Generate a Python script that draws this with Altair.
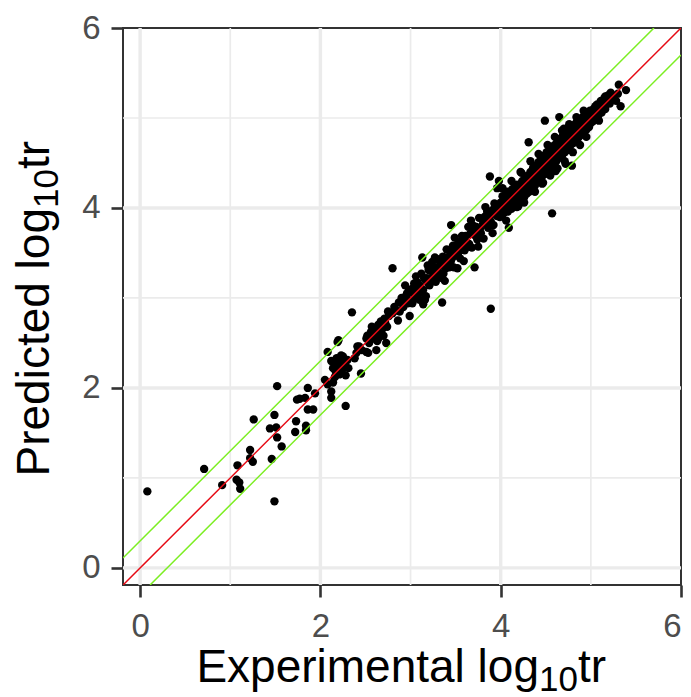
import altair as alt
import pandas as pd

# ---- data ----
exp_low = [0.08, 0.71, 0.91, 1.07, 1.10, 1.11, 1.08, 1.22, 1.22, 1.25, 1.26, 1.46, 1.49, 1.44, 1.51,
           1.52, 1.57, 1.49, 1.52, 1.73, 1.72, 1.84, 1.84, 1.74, 1.86, 1.77, 1.83, 1.94, 1.86, 1.92]
pred_low = [0.85, 1.10, 0.92, 0.98, 0.95, 0.88, 1.14, 1.31, 1.22, 1.18, 1.65, 1.21, 1.70, 1.55, 1.56,
            1.45, 1.35, 0.74, 2.02, 1.63, 1.51, 1.58, 1.53, 1.87, 2.00, 1.88, 1.89, 1.94, 1.76, 1.76]

exp_mid = [2.05, 2.08, 2.08, 2.12, 2.12, 2.28, 2.20, 2.19, 2.12, 2.14, 2.16, 2.17, 2.18, 2.20, 2.21,
           2.22, 2.24, 2.25, 2.27, 2.28, 2.30, 2.31, 2.16, 2.23, 2.14, 2.35, 2.41, 2.51, 2.53, 2.45,
           2.43, 2.40, 2.46, 2.38, 2.52, 2.54, 2.56, 2.58, 2.60, 2.61, 2.63, 2.64, 2.66, 2.67, 2.69,
           2.70, 2.72, 2.74, 2.57, 2.65, 2.71, 2.76, 2.73, 2.62, 2.51, 2.75, 2.80, 2.86, 2.94, 2.96,
           2.97, 2.92, 2.80, 2.82, 2.84, 2.87, 2.88, 2.90, 2.93, 2.95, 2.98, 2.99, 2.99]
pred_mid = [2.09, 2.04, 2.40, 1.96, 1.89, 1.80, 2.53, 2.51, 2.30, 2.22, 2.27, 2.18, 2.33, 2.24, 2.15,
            2.29, 2.20, 2.35, 2.26, 2.14, 2.31, 2.22, 2.12, 2.36, 2.06, 2.84, 2.46, 2.55, 2.39, 2.16,
            2.46, 2.39, 2.42, 2.33, 2.58, 2.50, 2.62, 2.55, 2.66, 2.58, 2.52, 2.70, 2.62, 2.74, 2.66,
            2.58, 2.72, 2.68, 2.68, 2.56, 2.77, 2.80, 2.50, 2.42, 2.40, 2.85, 2.83, 2.75, 3.14, 3.05,
            2.94, 2.90, 3.33, 2.90, 2.86, 2.95, 2.85, 3.00, 2.96, 3.02, 3.08, 2.97, 2.80]

exp_3 = [3.01, 3.02, 3.04, 3.05, 3.07, 3.08, 3.10, 3.11, 3.12, 3.14, 3.15, 3.17, 3.18, 3.20, 3.21,
         3.22, 3.24, 3.25, 3.26, 3.28, 3.29, 3.30, 3.32, 3.33, 3.35, 3.36, 3.37, 3.39, 3.40, 3.41,
         3.43, 3.44, 3.46, 3.47, 3.48, 3.50, 3.51, 3.53, 3.54, 3.55, 3.57, 3.58, 3.60, 3.61, 3.62,
         3.64, 3.65, 3.66, 3.68, 3.69, 3.70, 3.72, 3.73, 3.74, 3.76, 3.77, 3.78, 3.80, 3.81, 3.82,
         3.84, 3.85, 3.86, 3.88, 3.89, 3.90, 3.92, 3.93, 3.94, 3.96, 3.97, 3.99,
         3.015, 3.045, 3.085, 3.125, 3.165, 3.205, 3.245, 3.285, 3.325, 3.365, 3.405, 3.445, 3.485,
         3.525, 3.565, 3.605, 3.645, 3.685, 3.725, 3.765, 3.805, 3.845, 3.885, 3.925, 3.965,
         3.13, 3.35, 3.45, 3.71, 3.89, 3.98, 3.93, 3.95, 3.87, 3.82, 3.14, 3.88, 3.96,
         3.06, 3.16, 3.27, 3.38, 3.49, 3.59, 3.67, 3.75, 3.83, 3.91, 3.19, 3.52]
pred_3 = [3.06, 2.94, 3.16, 3.05, 3.04, 3.17, 2.98, 3.13, 3.27, 3.09, 3.22, 3.02, 3.22, 3.31, 3.14,
          3.22, 3.40, 3.23, 3.34, 3.18, 3.32, 3.43, 3.28, 3.39, 3.22, 3.46, 3.38, 3.33, 3.54, 3.45,
          3.34, 3.51, 3.44, 3.58, 3.34, 3.55, 3.47, 3.62, 3.54, 3.44, 3.69, 3.61, 3.53, 3.69, 3.61,
          3.79, 3.60, 3.71, 3.56, 3.71, 3.80, 3.69, 3.79, 3.65, 3.89, 3.77, 3.72, 3.88, 3.66, 3.86,
          3.82, 3.96, 3.78, 3.91, 3.85, 3.97, 3.81, 3.94, 4.03, 3.91, 4.01, 3.90,
          3.10, 2.99, 3.12, 3.06, 3.20, 3.15, 3.29, 3.25, 3.36, 3.27, 3.42, 3.40, 3.53,
          3.49, 3.60, 3.64, 3.57, 3.75, 3.78, 3.70, 3.83, 3.92, 3.84, 3.99, 3.98,
          3.45, 2.95, 3.81, 3.34, 2.88, 4.30, 4.05, 3.93, 3.95, 3.90, 2.93, 4.35, 4.22,
          3.24, 2.98, 3.45, 3.19, 3.67, 3.41, 3.86, 3.57, 4.01, 3.72, 3.36, 3.33]

exp_4 = [4.00, 4.01, 4.02, 4.03, 4.04, 4.05, 4.06, 4.07, 4.08, 4.09, 4.10, 4.11, 4.12, 4.13, 4.14,
         4.15, 4.16, 4.17, 4.18, 4.19, 4.20, 4.21, 4.22, 4.23, 4.24, 4.25, 4.26, 4.27, 4.28, 4.29,
         4.30, 4.31, 4.32, 4.33, 4.34, 4.35, 4.36, 4.37, 4.38, 4.39, 4.40, 4.41, 4.42, 4.43, 4.44,
         4.45, 4.46, 4.47, 4.48, 4.49, 4.50, 4.51, 4.52, 4.53, 4.54, 4.55, 4.56, 4.57, 4.58, 4.59,
         4.60, 4.61, 4.62, 4.63, 4.64, 4.65, 4.66, 4.67, 4.68, 4.69, 4.70, 4.71, 4.72, 4.73, 4.74,
         4.75, 4.76, 4.77, 4.78, 4.79, 4.80, 4.81, 4.82, 4.83, 4.84, 4.85, 4.86, 4.87, 4.88, 4.89,
         4.90, 4.91, 4.92, 4.93, 4.94, 4.95, 4.96, 4.97, 4.98, 4.99,
         4.015, 4.035, 4.055, 4.075, 4.095, 4.115, 4.135, 4.155, 4.175, 4.195, 4.215, 4.235, 4.255,
         4.275, 4.295, 4.315, 4.335, 4.355, 4.375, 4.395, 4.415, 4.435, 4.455, 4.475, 4.495, 4.515,
         4.535, 4.555, 4.575, 4.595, 4.615, 4.635, 4.655, 4.675, 4.695, 4.715, 4.735, 4.755, 4.775,
         4.795, 4.815, 4.835, 4.855, 4.875, 4.895, 4.915, 4.935, 4.955, 4.975, 4.995,
         4.31, 4.49, 4.65, 4.57, 4.09, 4.61, 4.72, 4.79, 4.04,
         4.02, 4.06, 4.12, 4.18, 4.22, 4.26, 4.33, 4.38, 4.42, 4.46, 4.52, 4.55, 4.60, 4.63,
         4.68, 4.71, 4.76, 4.80, 4.84, 4.88, 4.92, 4.95, 4.23, 4.47, 4.70]
pred_4 = [4.06, 3.95, 4.13, 4.02, 3.97, 4.10, 4.00, 4.18, 3.96, 4.05, 4.14, 4.03, 3.99, 4.21, 4.09,
          4.02, 4.16, 4.07, 4.26, 4.12, 4.05, 4.24, 4.15, 4.09, 4.30, 4.19, 4.12, 4.33, 4.22, 4.16,
          4.36, 4.27, 4.20, 4.40, 4.29, 4.22, 4.45, 4.33, 4.25, 4.47, 4.36, 4.30, 4.51, 4.39, 4.31,
          4.55, 4.42, 4.37, 4.58, 4.45, 4.38, 4.62, 4.50, 4.41, 4.64, 4.52, 4.45, 4.68, 4.55, 4.49,
          4.70, 4.60, 4.53, 4.74, 4.62, 4.56, 4.77, 4.66, 4.58, 4.80, 4.70, 4.62, 4.84, 4.73, 4.66,
          4.86, 4.76, 4.69, 4.89, 4.79, 4.72, 4.92, 4.83, 4.75, 4.95, 4.86, 4.78, 4.97, 4.89, 4.82,
          5.00, 4.92, 4.84, 5.04, 4.95, 4.87, 5.06, 4.99, 4.90, 5.08,
          3.92, 4.08, 4.15, 4.03, 3.99, 4.19, 4.06, 4.23, 4.11, 4.02, 4.18, 4.28, 4.13,
          4.20, 4.31, 4.18, 4.25, 4.42, 4.29, 4.35, 4.40, 4.47, 4.34, 4.50, 4.56, 4.44,
          4.57, 4.47, 4.60, 4.65, 4.52, 4.66, 4.70, 4.61, 4.73, 4.78, 4.64, 4.80, 4.74,
          4.86, 4.76, 4.81, 4.93, 4.80, 4.90, 4.97, 4.88, 4.99, 5.03, 4.94,
          4.73, 4.97, 5.01, 3.94, 3.78, 4.41, 4.49, 4.47, 3.95,
          4.22, 3.86, 4.30, 4.01, 4.40, 4.06, 4.52, 4.18, 4.60, 4.27, 4.70, 4.36, 4.79, 4.44,
          4.86, 4.52, 4.93, 4.62, 5.01, 4.70, 5.08, 4.79, 4.39, 4.28, 4.88]

exp_5 = [5.01, 5.02, 5.03, 5.04, 5.06, 5.07, 5.08, 5.10, 5.11, 5.12, 5.14, 5.15, 5.16, 5.18, 5.19,
         5.21, 5.22, 5.24, 5.26, 5.28, 5.30, 5.31, 5.33, 5.39, 5.05, 5.09, 5.16, 5.22]
pred_5 = [5.05, 4.96, 5.10, 5.01, 5.07, 5.15, 5.02, 5.11, 5.19, 5.06, 5.17, 5.22, 5.10, 5.20, 5.25,
          5.16, 5.27, 5.22, 5.24, 5.19, 5.27, 5.37, 5.13, 5.31, 5.13, 4.97, 5.24, 5.28]

experimental = exp_low + exp_mid + exp_3 + exp_4 + exp_5
predicted = pred_low + pred_mid + pred_3 + pred_4 + pred_5

AXIS_LOW = -0.19
AXIS_HIGH = 6.0
TICKS = [0, 2, 4, 6]
MAJOR_GRID = [0, 2, 4]
MINOR_GRID = [1, 3, 5]
BAND = 0.3
X_TITLE = ["Experimental log", "10", "tr"]
Y_TITLE = ["Predicted log", "10", "tr"]

FONT = "Liberation Sans"
W, H = 558, 557

pts = pd.DataFrame({"exp": experimental, "pred": predicted})

xs = alt.Scale(domain=[AXIS_LOW, AXIS_HIGH], nice=False, zero=False)
ys = alt.Scale(domain=[AXIS_LOW, AXIS_HIGH], nice=False, zero=False)

xaxis = alt.Axis(values=TICKS, grid=False, domain=False, title=None, tickColor="#333333",
                 tickWidth=2.6, tickSize=12, labelFont=FONT, labelFontSize=33,
                 labelColor="#4D4D4D", labelPadding=13, format="d")
yaxis = alt.Axis(values=TICKS, grid=False, domain=False, title=None, tickColor="#333333",
                 tickWidth=2.6, tickSize=12, labelFont=FONT, labelFontSize=33,
                 labelColor="#4D4D4D", labelPadding=11, format="d")

grid_major_x = alt.Chart(pd.DataFrame({"v": MAJOR_GRID})).mark_rule(
    color="#EBEBEB", strokeWidth=3.4).encode(x=alt.X("v:Q", scale=xs, axis=xaxis))
grid_minor_x = alt.Chart(pd.DataFrame({"v": MINOR_GRID})).mark_rule(
    color="#EBEBEB", strokeWidth=1.7).encode(x=alt.X("v:Q", scale=xs, axis=xaxis))
grid_major_y = alt.Chart(pd.DataFrame({"v": MAJOR_GRID})).mark_rule(
    color="#EBEBEB", strokeWidth=3.4).encode(y=alt.Y("v:Q", scale=ys, axis=yaxis))
grid_minor_y = alt.Chart(pd.DataFrame({"v": MINOR_GRID})).mark_rule(
    color="#EBEBEB", strokeWidth=1.7).encode(y=alt.Y("v:Q", scale=ys, axis=yaxis))

points = alt.Chart(pts).mark_circle(size=70, color="black", opacity=1).encode(
    x=alt.X("exp:Q", scale=xs, axis=xaxis),
    y=alt.Y("pred:Q", scale=ys, axis=yaxis),
)

lines_df = pd.DataFrame({
    "x": [AXIS_LOW, AXIS_HIGH, AXIS_LOW, AXIS_HIGH - BAND, AXIS_LOW + BAND, AXIS_HIGH],
    "y": [AXIS_LOW, AXIS_HIGH, AXIS_LOW + BAND, AXIS_HIGH, AXIS_LOW, AXIS_HIGH - BAND],
    "g": ["id", "id", "up", "up", "lo", "lo"],
})


def ref_line(name, color):
    return alt.Chart(lines_df[lines_df.g == name]).mark_line(
        color=color, strokeWidth=1.5, clip=True).encode(
        x=alt.X("x:Q", scale=xs, axis=xaxis), y=alt.Y("y:Q", scale=ys, axis=yaxis))


green_up = ref_line("up", "#7CEE22")
green_lo = ref_line("lo", "#7CEE22")
red = ref_line("id", "#E60A14")

TITLE_SIZE = 46
SUB_SIZE = 35
SUB_W = 39  # width of the subscript "10"
SUB_SHIFT = 9


def txt(s, size, align, x, y, angle=0):
    return alt.Chart(pd.DataFrame({"t": [s]})).mark_text(
        font=FONT, fontSize=size, color="black", align=align, baseline="alphabetic",
        angle=angle).encode(text="t:N", x=alt.value(x), y=alt.value(y))


# x title: junction between "log" and subscript
XJ, XB = 416, 654
xt = [txt(X_TITLE[0], TITLE_SIZE, "right", XJ, XB),
      txt(X_TITLE[1], SUB_SIZE, "left", XJ, XB + SUB_SHIFT),
      txt(X_TITLE[2], TITLE_SIZE, "left", XJ + SUB_W, XB)]
# y title (rotated, reading upwards)
YJ, YB = 180, -74
yt = [txt(Y_TITLE[0], TITLE_SIZE, "right", YB, YJ, 270),
      txt(Y_TITLE[1], SUB_SIZE, "left", YB + SUB_SHIFT, YJ, 270),
      txt(Y_TITLE[2], TITLE_SIZE, "left", YB, YJ - SUB_W, 270)]

chart = alt.layer(
    grid_minor_x, grid_minor_y, grid_major_x, grid_major_y,
    points, green_up, green_lo, red, *xt, *yt,
).properties(
    width=W, height=H,
    autosize=alt.AutoSizeParams(type="none"),
    padding={"left": 123, "top": 28, "right": 10, "bottom": 112},
    background="white",
).configure_view(stroke="#333333", strokeWidth=2)

chart.save("out.html", embed_options={"renderer": "svg", "actions": False})
